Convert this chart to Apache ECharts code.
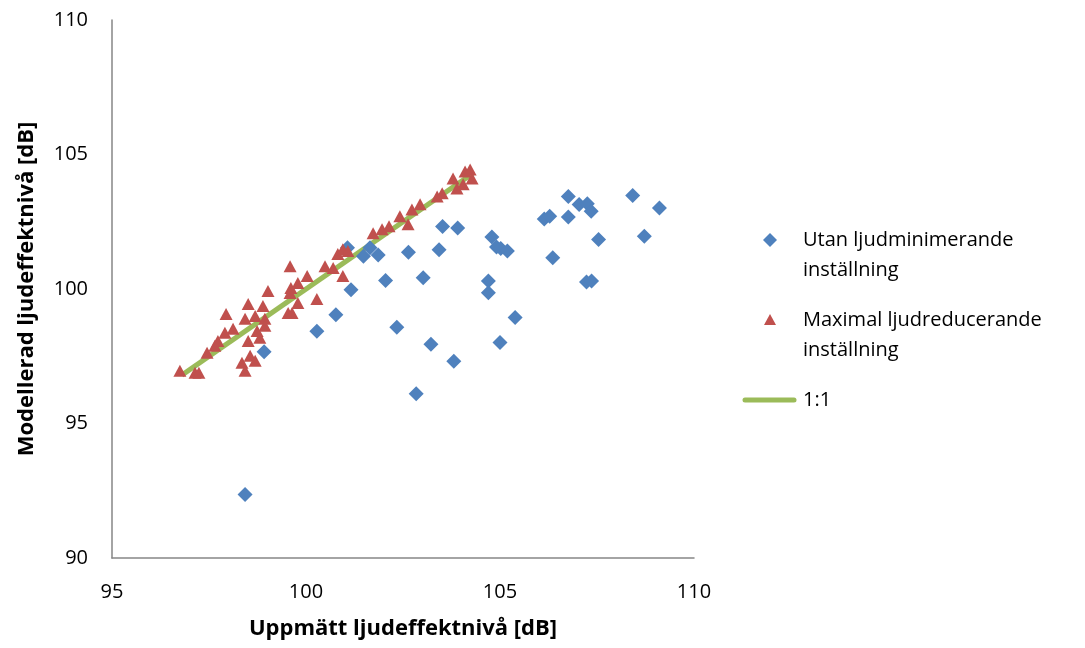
<!DOCTYPE html>
<html>
<head>
<meta charset="utf-8">
<script src="https://cdn.jsdelivr.net/npm/echarts@6/dist/echarts.min.js"></script>
<style>html,body{margin:0;padding:0;background:#fff}#c{width:1085px;height:648px}</style>
</head>
<body>
<div id="c"></div>
<script>
// Series names
const seriesNames = ['Utan ljudminimerande inställning', 'Maximal ljudreducerande inställning', '1:1'];
const legendLines = [['Utan ljudminimerande', 'inställning'], ['Maximal ljudreducerande', 'inställning'], ['1:1']];

// Utan ljudminimerande inställning: measured x, modelled y
const utanX = [98.43, 98.92, 100.28, 100.77, 101.16, 101.07, 101.48, 101.65, 101.86, 102.05, 102.34, 102.64, 102.84, 103.02, 103.22, 103.43, 103.52, 103.81, 103.91, 104.70, 104.70, 104.79, 104.91, 105.02, 105.19, 105.00, 105.39, 106.14, 106.28, 106.36, 106.76, 106.76, 107.04, 107.25, 107.35, 107.54, 107.23, 107.36, 108.42, 108.72, 109.11];
const utanY = [92.36, 97.67, 98.43, 99.04, 99.97, 101.53, 101.22, 101.53, 101.26, 100.32, 98.58, 101.37, 96.11, 100.42, 97.95, 101.46, 102.32, 97.31, 102.27, 100.30, 99.86, 101.93, 101.56, 101.51, 101.41, 98.01, 98.94, 102.60, 102.70, 101.16, 103.44, 102.68, 103.14, 103.17, 102.89, 101.84, 100.26, 100.30, 103.48, 101.96, 103.01];

// Maximal ljudreducerande inställning
const maxX = [96.75, 97.14, 97.24, 97.45, 97.65, 97.73, 97.91, 98.12, 97.94, 98.35, 98.43, 98.56, 98.69, 98.51, 98.81, 98.74, 98.43, 98.51, 98.69, 98.89, 98.94, 98.94, 99.02, 99.59, 99.61, 99.59, 99.79, 100.03, 99.79, 100.28, 99.54, 99.64, 100.49, 100.70, 100.95, 100.82, 100.95, 101.08, 101.73, 101.96, 102.14, 102.42, 102.63, 102.73, 102.94, 103.38, 103.51, 103.79, 103.89, 104.05, 104.10, 104.23, 104.28];
const maxY = [96.96, 96.89, 96.89, 97.63, 97.89, 98.07, 98.37, 98.52, 99.07, 97.26, 96.96, 97.52, 97.33, 98.07, 98.19, 98.44, 98.89, 99.44, 99.00, 99.37, 98.89, 98.63, 99.93, 100.85, 100.04, 99.85, 100.22, 100.48, 99.48, 99.63, 99.11, 99.11, 100.85, 100.78, 100.48, 101.30, 101.48, 101.41, 102.07, 102.22, 102.33, 102.70, 102.41, 102.96, 103.15, 103.44, 103.56, 104.11, 103.74, 103.89, 104.37, 104.44, 104.11];

// 1:1 line endpoints
const oneX = [96.8, 104.3];
const oneY = [96.8, 104.3];

// Axes
const xTicks = [95, 100, 105, 110];
const yTicks = [90, 95, 100, 105, 110];
const xTitle = 'Uppmätt ljudeffektnivå [dB]';
const yTitle = 'Modellerad ljudeffektnivå [dB]';

const colors = ['#4f81bd', '#c0504d', '#9bbb59'];
const zip = (a, b) => a.map((v, i) => [v, b[i]]);
const FONT = '"Open Sans", Lato, sans-serif';

const chart = echarts.init(document.getElementById('c'), null, {renderer: 'canvas'});

const gridL = 112, gridR = 391, gridT = 20, gridB = 90;

function legendGraphics() {
  const g = [];
  const items = [
    {y: 240, kind: 'diamond'},
    {y: 320, kind: 'triangle'},
    {y: 400, kind: 'line'}
  ];
  items.forEach((it, i) => {
    if (it.kind === 'diamond') {
      g.push({type: 'polygon', shape: {points: [[770, it.y - 7], [777, it.y], [770, it.y + 7], [763, it.y]]}, style: {fill: colors[0]}});
    } else if (it.kind === 'triangle') {
      g.push({type: 'polygon', shape: {points: [[770, it.y - 6], [776, it.y + 5], [764, it.y + 5]]}, style: {fill: colors[1]}});
    } else {
      g.push({type: 'line', shape: {x1: 745, y1: it.y, x2: 794, y2: it.y}, style: {stroke: colors[2], lineWidth: 5, lineCap: 'round'}});
    }
    legendLines[i].forEach((t, j) => {
      g.push({type: 'text', x: 803, y: it.y + j * 30, style: {text: t, font: '20px ' + FONT, fill: '#000', verticalAlign: 'middle'}});
    });
  });
  return g;
}

chart.setOption({
  animation: false,
  backgroundColor: '#fff',
  grid: {left: gridL, right: gridR, top: gridT, bottom: gridB, containLabel: false, outerBoundsMode: 'none'},
  xAxis: {
    type: 'value', min: xTicks[0], max: xTicks[xTicks.length - 1], interval: 5,
    name: xTitle, nameLocation: 'middle', nameGap: 60,
    nameTextStyle: {fontFamily: FONT, fontSize: 22, fontWeight: 'bold', color: '#000'},
    axisLine: {lineStyle: {color: '#868686', width: 1.5}},
    axisTick: {show: false},
    splitLine: {show: false},
    axisLabel: {fontFamily: FONT, fontSize: 20, color: '#000', margin: 24}
  },
  yAxis: {
    type: 'value', min: yTicks[0], max: yTicks[yTicks.length - 1], interval: 5,
    name: yTitle, nameLocation: 'middle', nameGap: 74,
    nameTextStyle: {fontFamily: FONT, fontSize: 22, fontWeight: 'bold', color: '#000'},
    axisLine: {show: true, lineStyle: {color: '#868686', width: 1.5}},
    axisTick: {show: false},
    splitLine: {show: false},
    axisLabel: {fontFamily: FONT, fontSize: 20, color: '#000', margin: 24}
  },
  graphic: legendGraphics(),
  series: [
    {
      name: seriesNames[2], type: 'line', data: zip(oneX, oneY), showSymbol: false, z: 1,
      lineStyle: {color: colors[2], width: 5}, itemStyle: {color: colors[2]}
    },
    {
      name: seriesNames[0], type: 'scatter', data: zip(utanX, utanY), symbol: 'diamond', symbolSize: 15, z: 2,
      itemStyle: {color: colors[0], opacity: 1}
    },
    {
      name: seriesNames[1], type: 'scatter', data: zip(maxX, maxY), symbol: 'triangle', symbolSize: [13, 12], z: 3,
      itemStyle: {color: colors[1], opacity: 1}
    }
  ]
});
</script>
</body>
</html>
